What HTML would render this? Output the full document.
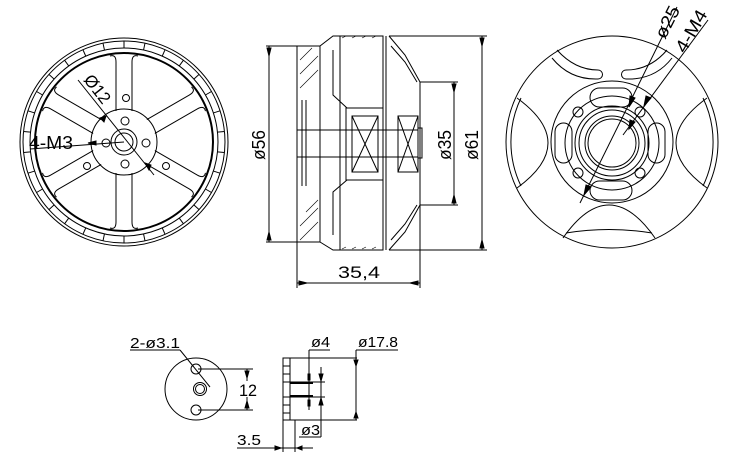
<!DOCTYPE html>
<html><head><meta charset="utf-8"><style>
html,body{margin:0;padding:0;background:#fff;}
svg{display:block}
text{font-family:"Liberation Sans",sans-serif;fill:#000}
</style></head><body>
<svg width="741" height="475" viewBox="0 0 741 475" xmlns="http://www.w3.org/2000/svg" fill="none" stroke="#000" stroke-width="1">
<!-- LEFT VIEW -->
<g>
<circle cx="124" cy="142" r="104"/>
<circle cx="124" cy="142" r="101"/>
<circle cx="124" cy="142" r="94"/>
<circle cx="124" cy="142" r="89" stroke-width="2"/>
<g id="ticks">
<line x1="124" y1="41" x2="124" y2="48"/>
<line x1="124" y1="41" x2="124" y2="48" transform="rotate(12 124 142)"/>
<line x1="124" y1="41" x2="124" y2="48" transform="rotate(24 124 142)"/>
<line x1="124" y1="41" x2="124" y2="48" transform="rotate(36 124 142)"/>
<line x1="124" y1="41" x2="124" y2="48" transform="rotate(48 124 142)"/>
<line x1="124" y1="41" x2="124" y2="48" transform="rotate(60 124 142)"/>
<line x1="124" y1="41" x2="124" y2="48" transform="rotate(72 124 142)"/>
<line x1="124" y1="41" x2="124" y2="48" transform="rotate(84 124 142)"/>
<line x1="124" y1="41" x2="124" y2="48" transform="rotate(96 124 142)"/>
<line x1="124" y1="41" x2="124" y2="48" transform="rotate(108 124 142)"/>
<line x1="124" y1="41" x2="124" y2="48" transform="rotate(120 124 142)"/>
<line x1="124" y1="41" x2="124" y2="48" transform="rotate(132 124 142)"/>
<line x1="124" y1="41" x2="124" y2="48" transform="rotate(144 124 142)"/>
<line x1="124" y1="41" x2="124" y2="48" transform="rotate(156 124 142)"/>
<line x1="124" y1="41" x2="124" y2="48" transform="rotate(168 124 142)"/>
<line x1="124" y1="41" x2="124" y2="48" transform="rotate(180 124 142)"/>
<line x1="124" y1="41" x2="124" y2="48" transform="rotate(192 124 142)"/>
<line x1="124" y1="41" x2="124" y2="48" transform="rotate(204 124 142)"/>
<line x1="124" y1="41" x2="124" y2="48" transform="rotate(216 124 142)"/>
<line x1="124" y1="41" x2="124" y2="48" transform="rotate(228 124 142)"/>
<line x1="124" y1="41" x2="124" y2="48" transform="rotate(240 124 142)"/>
<line x1="124" y1="41" x2="124" y2="48" transform="rotate(252 124 142)"/>
<line x1="124" y1="41" x2="124" y2="48" transform="rotate(264 124 142)"/>
<line x1="124" y1="41" x2="124" y2="48" transform="rotate(276 124 142)"/>
<line x1="124" y1="41" x2="124" y2="48" transform="rotate(288 124 142)"/>
<line x1="124" y1="41" x2="124" y2="48" transform="rotate(300 124 142)"/>
<line x1="124" y1="41" x2="124" y2="48" transform="rotate(312 124 142)"/>
<line x1="124" y1="41" x2="124" y2="48" transform="rotate(324 124 142)"/>
<line x1="124" y1="41" x2="124" y2="48" transform="rotate(336 124 142)"/>
<line x1="124" y1="41" x2="124" y2="48" transform="rotate(348 124 142)"/>
</g>
<g id="spk">
<path d="M116 111 L116 62 Q116 54 110 56 M132 111 L132 62 Q132 54 138 56"/>
</g>
<use href="#spk" transform="rotate(60 124 142)"/>
<use href="#spk" transform="rotate(120 124 142)"/>
<use href="#spk" transform="rotate(180 124 142)"/>
<use href="#spk" transform="rotate(240 124 142)"/>
<use href="#spk" transform="rotate(300 124 142)"/>
<circle cx="124" cy="142" r="33"/>
<circle cx="124" cy="142" r="13"/>
<circle cx="124" cy="142" r="9"/>
<circle cx="125" cy="121" r="4"/><circle cx="106" cy="143" r="4"/><circle cx="146" cy="143" r="4"/><circle cx="125" cy="164" r="4"/>
<circle cx="126" cy="98" r="3.5"/><circle cx="87" cy="166" r="3.5"/><circle cx="166" cy="166" r="3.5"/>
<line x1="78" y1="80" x2="154" y2="175"/>
<line x1="30" y1="149" x2="124" y2="142"/>
<path d="M100 118 L106 116 L104 122 Z M145 163 L151 165 L149 170 Z M88 143 L96 141 L96 145 Z" fill="#000"/>
<text x="0" y="0" font-size="17" stroke="none" textLength="32" lengthAdjust="spacingAndGlyphs" transform="translate(83,80) rotate(52)">Ø12</text>
<text x="29" y="149" font-size="18" stroke="none" textLength="44" lengthAdjust="spacingAndGlyphs">4-M3</text>
</g>

<!-- MIDDLE VIEW -->
<g>
<rect x="297" y="46" width="23" height="196"/>
<line x1="297" y1="130" x2="418" y2="130"/><line x1="297" y1="157" x2="418" y2="157"/>
<line x1="302" y1="100" x2="302" y2="186"/><line x1="306" y1="100" x2="306" y2="186"/>
<path d="M320 46 L333 36 L383 36 L383 250 L333 250 L320 242" />
<path d="M340 36 L340 250 M333 50 L333 95 L347 108 M333 235 L333 192 L347 180"/>
<path d="M346 108 L383 108 L383 180 L346 180 Z"/>
<rect x="352" y="116" width="26" height="56"/>
<path d="M352 116 L378 172 M378 116 L352 172"/>
<rect x="398" y="116" width="20" height="56"/>
<path d="M398 116 L418 172 M418 116 L398 172"/>
<path d="M386 36 L386 250 M389 36 L405 55 L420 82 L420 205 L405 232 L389 250"/>
<path d="M391 46 L405 62 L417 82 M391 240 L405 224 L417 205"/>
<rect x="418" y="128" width="4" height="30"/>
<g stroke-width="0.6">
<path d="M300 60 L312 48 M300 74 L318 56 M300 88 L318 70 M300 240 L318 222 M300 226 L318 208 M306 212 L318 200"/>
<path d="M342 38 L346 36 M352 38 L356 36 M362 38 L366 36 M372 38 L376 36 M342 249 L346 247 M352 249 L356 247 M362 249 L366 247 M372 249 L376 247"/>
</g>
<line x1="266" y1="46" x2="297" y2="46"/><line x1="266" y1="242" x2="297" y2="242"/>
<line x1="269" y1="46" x2="269" y2="242"/>
<path d="M267 48 L271 48 L269 56 Z M267 240 L271 240 L269 232 Z" fill="#000"/>
<text font-size="18" stroke="none" textLength="30" lengthAdjust="spacingAndGlyphs" transform="translate(265,160) rotate(-90)">ø56</text>
<line x1="420" y1="82" x2="458" y2="82"/><line x1="420" y1="205" x2="458" y2="205"/>
<line x1="454" y1="82" x2="454" y2="205"/>
<path d="M452 84 L456 84 L454 92 Z M452 203 L456 203 L454 195 Z" fill="#000"/>
<text font-size="18" stroke="none" textLength="30" lengthAdjust="spacingAndGlyphs" transform="translate(451,160) rotate(-90)">ø35</text>
<line x1="389" y1="36" x2="487" y2="36"/><line x1="389" y1="250" x2="487" y2="250"/>
<line x1="482" y1="36" x2="482" y2="250"/>
<path d="M480 38 L484 38 L482 46 Z M480 248 L484 248 L482 240 Z" fill="#000"/>
<text font-size="18" stroke="none" textLength="30" lengthAdjust="spacingAndGlyphs" transform="translate(478,160) rotate(-90)">ø61</text>
<line x1="297" y1="242" x2="297" y2="288"/><line x1="420" y1="205" x2="420" y2="288"/>
<line x1="297" y1="283" x2="420" y2="283"/>
<path d="M299 281 L299 285 L307 283 Z M418 281 L418 285 L410 283 Z" fill="#000"/>
<text x="338" y="278" font-size="17" stroke="none" textLength="42" lengthAdjust="spacingAndGlyphs">35,4</text>
</g>

<!-- RIGHT VIEW -->
<g>
<circle cx="612" cy="142" r="106"/>
<circle cx="612" cy="142" r="61"/>
<circle cx="612" cy="143" r="47"/>
<circle cx="612" cy="143" r="37"/>
<circle cx="612" cy="143" r="33"/>
<circle cx="612" cy="143" r="27"/>
<circle cx="612" cy="143" r="24"/>
<rect x="590" y="88" width="42" height="19" rx="9.5"/>
<rect x="590" y="181" width="42" height="19" rx="9.5"/>
<rect x="555" y="123" width="17" height="40" rx="8.5"/>
<rect x="648" y="123" width="17" height="40" rx="8.5"/>
<circle cx="578" cy="112" r="5"/><circle cx="640" cy="112" r="5"/><circle cx="578" cy="173" r="5"/><circle cx="640" cy="173" r="5"/>
<path d="M517 98 Q579 143 517 188"/>
<path d="M521 98 A101 101 0 0 0 521 186"/>
<path d="M707 98 Q645 143 707 188"/>
<path d="M703 98 A101 101 0 0 1 703 186"/>
<path d="M563 238 Q609 172 655 238"/>
<path d="M566 233 Q609 226 652 233"/>
<path d="M557 50 Q575 70 598 70 A4.5 4.5 0 0 1 598 79 Q570 80 552 58"/>
<path d="M667 50 Q650 70 626 70 A4.5 4.5 0 0 0 626 79 Q655 80 672 58"/>
<line x1="580" y1="203" x2="677" y2="7"/>
<line x1="623" y1="135" x2="708" y2="20"/>
<path d="M630 96 L635 98 L629 107 Z M586 185 L591 187 L584 195 Z M630 120 L635 122 L629 129 Z M646 96 L651 98 L644 106 Z" fill="#000"/>
<text font-size="18" stroke="none" textLength="34" lengthAdjust="spacingAndGlyphs" transform="translate(665,40) rotate(-63)">ø25</text>
<text font-size="18" stroke="none" textLength="46" lengthAdjust="spacingAndGlyphs" transform="translate(685,54) rotate(-60)">4-M4</text>
</g>

<!-- BOTTOM LEFT -->
<g>
<circle cx="196" cy="389" r="31"/>
<circle cx="196" cy="369" r="5"/>
<circle cx="196" cy="410" r="5"/>
<circle cx="200" cy="389" r="6.5"/><circle cx="200" cy="389" r="4.5"/>
<line x1="130" y1="350" x2="180" y2="350"/>
<line x1="180" y1="350" x2="210" y2="387"/>
<text x="130" y="348" font-size="15" stroke="none" textLength="50" lengthAdjust="spacingAndGlyphs">2-ø3.1</text>
<line x1="198" y1="369" x2="253" y2="369"/><line x1="198" y1="410" x2="253" y2="410"/>
<line x1="247" y1="369" x2="247" y2="410"/>
<path d="M245 371 L249 371 L247 378 Z M245 408 L249 408 L247 401 Z" fill="#000"/>
<rect x="238" y="381" width="20" height="16" fill="#fff" stroke="none"/>
<text x="239" y="396" font-size="17" stroke="none" textLength="18" lengthAdjust="spacingAndGlyphs">12</text>
</g>

<!-- BOTTOM RIGHT -->
<g>
<rect x="283" y="358" width="7" height="62"/>
<path d="M283 366 H290 M283 374 H290 M283 382 H290 M283 397 H290 M283 405 H290 M283 413 H290"/>
<line x1="290" y1="358" x2="357" y2="358"/><line x1="290" y1="420" x2="357" y2="420"/>
<line x1="290" y1="382" x2="325" y2="382"/><line x1="290" y1="397" x2="325" y2="397"/>
<line x1="290" y1="383" x2="313" y2="383" stroke-width="2"/><line x1="290" y1="396" x2="313" y2="396" stroke-width="2"/>
<line x1="356" y1="350" x2="356" y2="420"/>
<line x1="356" y1="350" x2="398" y2="350"/>
<path d="M354 360 L358 360 L356 366 Z M354 418 L358 418 L356 412 Z" fill="#000"/>
<text x="358" y="347" font-size="15" stroke="none" textLength="40" lengthAdjust="spacingAndGlyphs">ø17.8</text>
<line x1="309" y1="350" x2="309" y2="410"/><line x1="309" y1="350" x2="330" y2="350"/>
<rect x="308" y="374" width="2" height="6" fill="#000"/><rect x="308" y="400" width="2" height="6" fill="#000"/>
<text x="311" y="347" font-size="15" stroke="none" textLength="19" lengthAdjust="spacingAndGlyphs">ø4</text>
<line x1="321" y1="367" x2="321" y2="437"/><line x1="299" y1="437" x2="321" y2="437"/>
<path d="M319 374 L323 374 L321 381 Z M319 405 L323 405 L321 398 Z" fill="#000"/>
<text x="301" y="435" font-size="15" stroke="none" textLength="19" lengthAdjust="spacingAndGlyphs">ø3</text>
<line x1="283" y1="420" x2="283" y2="452"/><line x1="295" y1="420" x2="295" y2="452"/>
<line x1="237" y1="448" x2="313" y2="448"/>
<path d="M275 446 L275 450 L281 448 Z M302 446 L302 450 L297 448 Z" fill="#000"/>
<text x="237" y="445" font-size="15" stroke="none" textLength="24" lengthAdjust="spacingAndGlyphs">3.5</text>
</g>
</svg>
</body></html>
